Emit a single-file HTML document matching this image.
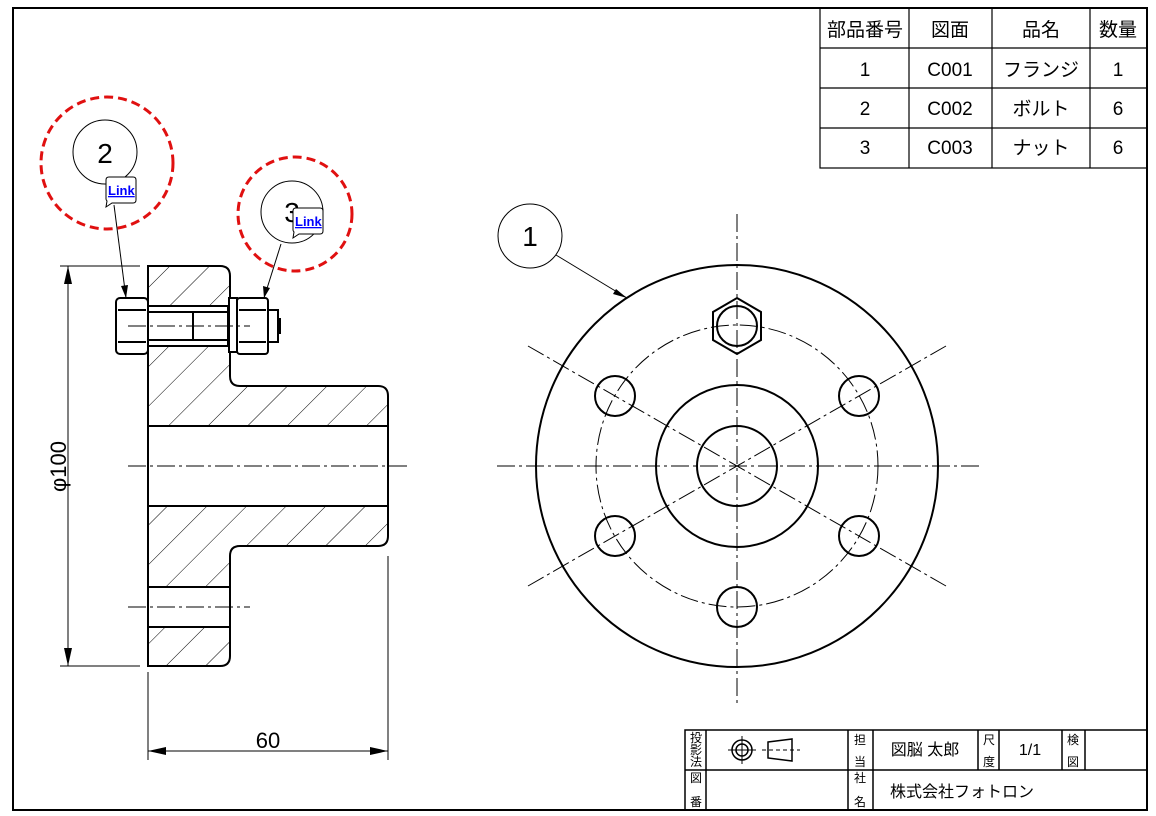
<!DOCTYPE html>
<html><head><meta charset="utf-8"><style>
html,body{margin:0;padding:0;background:#fff;width:1156px;height:816px;overflow:hidden}
svg{display:block}
text{font-family:"Liberation Sans","Noto Sans CJK JP",sans-serif;fill:#000}
</style></head><body>
<svg width="1156" height="816" viewBox="0 0 1156 816" xmlns="http://www.w3.org/2000/svg">
<defs>
<pattern id="h" patternUnits="userSpaceOnUse" width="28" height="28" patternTransform="rotate(45)">
<line x1="0" y1="0" x2="0" y2="28" stroke="#000" stroke-width="1"/>
</pattern>
</defs>
<rect x="13" y="8" width="1134" height="802" fill="none" stroke="#000" stroke-width="2"/>

<!-- parts table -->
<g stroke="#000" stroke-width="1.2" fill="none">
<rect x="820" y="8" width="327" height="160"/>
<line x1="909" y1="8" x2="909" y2="168"/><line x1="992" y1="8" x2="992" y2="168"/><line x1="1090" y1="8" x2="1090" y2="168"/>
<line x1="820" y1="48" x2="1147" y2="48"/><line x1="820" y1="88" x2="1147" y2="88"/><line x1="820" y1="128" x2="1147" y2="128"/>
</g>
<g font-size="19" text-anchor="middle">
<text x="865" y="36">部品番号</text><text x="950" y="36">図面</text><text x="1041" y="36">品名</text><text x="1118" y="36">数量</text>
<text x="865" y="76">1</text><text x="950" y="76">C001</text><text x="1041" y="76">フランジ</text><text x="1118" y="76">1</text>
<text x="865" y="115">2</text><text x="950" y="115">C002</text><text x="1041" y="115">ボルト</text><text x="1118" y="115">6</text>
<text x="865" y="154">3</text><text x="950" y="154">C003</text><text x="1041" y="154">ナット</text><text x="1118" y="154">6</text>
</g>

<!-- left section view -->
<g stroke="#000" stroke-width="2" fill="url(#h)">
<path d="M148 266 H220 Q230 266 230 276 V306 H148 Z"/>
<path d="M148 346 H230 V376 Q230 386 240 386 H378 Q388 386 388 396 V426 H148 Z"/>
<path d="M148 506 H388 V536 Q388 546 378 546 H240 Q230 546 230 556 V587 H148 Z"/>
<path d="M148 627 H230 V656 Q230 666 220 666 H148 Z"/>
</g>
<g stroke="#000" stroke-width="2" fill="none">
<line x1="148" y1="426" x2="148" y2="506"/><line x1="388" y1="426" x2="388" y2="506"/>
<line x1="148" y1="587" x2="148" y2="627"/><line x1="230" y1="587" x2="230" y2="627"/>
<!-- bolt -->
<rect x="116" y="298" width="32" height="56" rx="4" fill="#fff"/>
<line x1="118" y1="310" x2="146" y2="310"/><line x1="118" y1="342" x2="146" y2="342"/>
<rect x="148" y="306" width="80" height="40" fill="#fff"/>
<line x1="148" y1="312" x2="228" y2="312"/><line x1="148" y1="340" x2="228" y2="340"/>
<line x1="193" y1="312" x2="193" y2="340"/>
<rect x="229" y="298" width="8" height="54" fill="#fff"/>
<rect x="237" y="298" width="31" height="56" rx="3" fill="#fff"/>
<line x1="239" y1="310" x2="266" y2="310"/><line x1="239" y1="342" x2="266" y2="342"/>
<rect x="268" y="310" width="10" height="32" fill="#fff"/>
<line x1="280" y1="318" x2="280" y2="334"/>
</g>
<g stroke="#000" stroke-width="1" stroke-dasharray="18,4,3,4" fill="none">
<line x1="128" y1="466" x2="410" y2="466"/>
<line x1="128" y1="607" x2="250" y2="607"/>
<line x1="128" y1="326" x2="250" y2="326"/>
</g>
<!-- dimensions -->
<g stroke="#000" stroke-width="1" fill="none">
<line x1="60" y1="266" x2="140" y2="266"/><line x1="60" y1="666" x2="140" y2="666"/>
<line x1="68" y1="266" x2="68" y2="666"/>
<line x1="148" y1="672" x2="148" y2="760"/><line x1="388" y1="556" x2="388" y2="760"/>
<line x1="148" y1="751" x2="388" y2="751"/>
</g>
<g fill="#000">
<path d="M68 266 L64 284 L72 284 Z"/><path d="M68 666 L64 648 L72 648 Z"/>
<path d="M148 751 L166 747 L166 755 Z"/><path d="M388 751 L370 747 L370 755 Z"/>
</g>
<text x="0" y="0" font-size="22" transform="translate(66 492) rotate(-90)">φ100</text>
<text x="268" y="748" font-size="22" text-anchor="middle">60</text>

<!-- right front view -->
<g stroke="#000" stroke-width="2" fill="none">
<circle cx="737" cy="466" r="201"/>
<circle cx="737" cy="466" r="81"/>
<circle cx="737" cy="466" r="40"/>
<circle cx="615" cy="396" r="20"/><circle cx="859" cy="396" r="20"/>
<circle cx="615" cy="536" r="20"/><circle cx="859" cy="536" r="20"/>
<circle cx="737" cy="607" r="20"/>
<polygon points="737,298 761,312 761,340 737,354 713,340 713,312" fill="#fff"/>
<circle cx="737" cy="326" r="20"/>
</g>
<g stroke="#000" stroke-width="1" stroke-dasharray="18,4,3,4" fill="none">
<circle cx="737" cy="466" r="141"/>
<line x1="497" y1="466" x2="980" y2="466"/>
<line x1="737" y1="214" x2="737" y2="706"/>
<line x1="528" y1="346" x2="946" y2="586"/>
<line x1="528" y1="586" x2="946" y2="346"/>
</g>

<!-- balloons -->
<g stroke="#000" stroke-width="1" fill="#fff">
<line x1="556" y1="255" x2="627" y2="298"/>
<circle cx="530" cy="236" r="32"/>
<line x1="114" y1="205" x2="126" y2="298"/>
<circle cx="105" cy="152" r="32"/>
<line x1="281" y1="244" x2="264" y2="298"/>
<circle cx="292" cy="212" r="31"/>
</g>
<g fill="#000"><path d="M627 298 L616 289 L613 294 Z"/><path d="M126 298 L121 286 L128 285 Z"/><path d="M264 298 L263 286 L270 288 Z"/></g>
<text x="530" y="246" font-size="28" text-anchor="middle">1</text>
<text x="105" y="163" font-size="28" text-anchor="middle">2</text>
<text x="292" y="222" font-size="28" text-anchor="middle">3</text>
<g fill="none" stroke="#e01010" stroke-width="3" stroke-dasharray="9,5">
<circle cx="107" cy="163" r="66"/><circle cx="295" cy="214" r="57"/>
</g>
<g stroke="#000" stroke-width="1" fill="#fff">
<path d="M109 177 H133 Q136 177 136 180 V200 Q136 203 133 203 H112 L106 207 L107 201 Q106 200 106 199 V180 Q106 177 109 177 Z"/>
<path d="M296 208 H320 Q323 208 323 211 V231 Q323 234 320 234 H299 L293 238 L294 232 Q293 231 293 230 V211 Q293 208 296 208 Z"/>
</g>
<g font-size="13" font-weight="bold" fill="#00f" text-decoration="underline">
<text x="108" y="195" style="fill:#00f">Link</text>
<text x="295" y="226" style="fill:#00f">Link</text>
</g>

<!-- title block -->
<g stroke="#000" stroke-width="1.5" fill="none">
<rect x="685" y="730" width="462" height="80"/>
<line x1="685" y1="770" x2="1147" y2="770"/>
<line x1="706" y1="730" x2="706" y2="810"/><line x1="848" y1="730" x2="848" y2="810"/><line x1="873" y1="730" x2="873" y2="810"/>
<line x1="978" y1="730" x2="978" y2="770"/><line x1="999" y1="730" x2="999" y2="770"/>
<line x1="1062" y1="730" x2="1062" y2="770"/><line x1="1085" y1="730" x2="1085" y2="770"/>
<circle cx="742" cy="750" r="10"/><circle cx="742" cy="750" r="6"/>
<line x1="728" y1="750" x2="756" y2="750" stroke-width="1"/><line x1="742" y1="736" x2="742" y2="764" stroke-width="1"/>
<path d="M768 742 L792 739 V761 L768 758 Z"/>
<line x1="762" y1="750" x2="800" y2="750" stroke-width="1" stroke-dasharray="4,3"/>
</g>
<g font-size="12" text-anchor="middle">
<text x="696" y="742">投</text><text x="696" y="754">影</text><text x="696" y="766">法</text>
<text x="696" y="782">図</text><text x="696" y="806">番</text>
<text x="860" y="744">担</text><text x="860" y="766">当</text>
<text x="860" y="782">社</text><text x="860" y="806">名</text>
<text x="989" y="744">尺</text><text x="989" y="766">度</text>
<text x="1073" y="744">検</text><text x="1073" y="766">図</text>
</g>
<text x="925" y="755" font-size="16" text-anchor="middle">図脳 太郎</text>
<text x="1030" y="755" font-size="16" text-anchor="middle">1/1</text>
<text x="890" y="797" font-size="16">株式会社フォトロン</text>
</svg>
</body></html>
